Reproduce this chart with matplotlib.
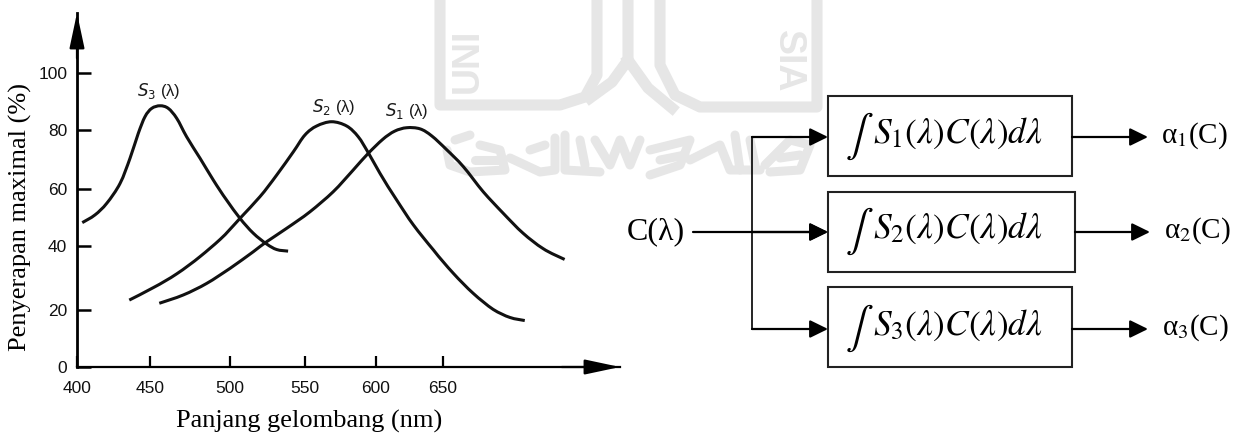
import numpy as np
import matplotlib
matplotlib.use('Agg')
import matplotlib.pyplot as plt
from matplotlib.patches import Rectangle, PathPatch
from matplotlib.path import Path

# values
s3_x = [403.6, 412.3, 420.4, 429.5, 436.3, 442, 446.6, 451.1, 456.3, 461.4, 466.7, 472.9, 481.3, 489.6, 497.9, 506.7, 515.6, 524.6, 531.3, 539]
s3_y = [48.2, 50.9, 55, 61.9, 70.4, 78.9, 84.7, 87.6, 88.5, 87.6, 84.1, 77.7, 70.4, 63, 56.1, 49.7, 44.5, 40.7, 38.9, 38.4]
s2_x = [435.8, 452.1, 466.7, 481.3, 493.8, 506.7, 520.1, 531.3, 542.5, 550.3, 558.5, 569, 579.5, 587.6, 594.6, 603, 615.6, 628.1, 643.1, 658.1, 673.2, 688.2, 700.8, 712.1]
s2_y = [23.1, 27, 31.3, 36.7, 42.3, 49.7, 57.3, 64.7, 72.6, 78.3, 81.4, 82.9, 81.4, 77.7, 72.3, 65.3, 56.1, 47.4, 38.8, 31.5, 25.2, 20.2, 17.4, 16.3]
s1_x = [455.8, 470.8, 485.4, 500, 515.6, 524.6, 538, 553.8, 570, 584, 594.6, 605, 614, 623.1, 633.1, 641.9, 653.2, 665.7, 680.8, 695.8, 710.8, 725.9, 742.2]
s1_y = [22.1, 24.7, 28.3, 33, 38.2, 41.5, 46.2, 52, 59, 66.4, 72.1, 76.8, 79.6, 80.8, 80.4, 78, 73.3, 67.6, 59, 51.5, 44.5, 39.2, 35.8]

x_ticks = [400, 450, 500, 550, 600, 650]
y_ticks = [0, 20, 40, 60, 80, 100]

# the printed axes are not evenly spaced, so map the ticks to where they really are
x_knots = [400, 450, 500, 550, 600, 650, 784]
x_px = [77, 150, 230, 304.5, 376, 442.5, 620]
y_knots = [0, 20, 40, 60, 80, 100, 120.4]
y_px = [0, 57, 121, 178, 237, 294, 354]

# faint watermark behind everything
wm_bands = [
    [(440, -5), (440, 105), (560, 105), (585, 97), (597, 75), (597, -5)],
    [(628, -5), (628, 60), (612, 82), (590, 98)],
    [(628, 60), (648, 88), (672, 108)],
    [(660, -5), (660, 65), (675, 95), (700, 107), (817, 107), (817, -5)],
]
wm_script = [
    [(447, 150), (450, 165), (470, 172), (505, 170), (500, 150), (480, 145)],
    [(455, 140), (470, 135)],
    [(475, 160), (500, 160)],
    [(510, 158), (540, 172), (555, 170), (555, 138)],
    [(530, 150), (545, 145)],
    [(565, 135), (565, 170), (600, 172)],
    [(580, 140), (585, 165)],
    [(595, 140), (610, 165), (620, 140), (630, 165), (640, 140)],
    [(650, 150), (690, 140), (680, 165), (650, 175)],
    [(660, 160), (685, 155)],
    [(690, 160), (720, 145), (730, 170), (760, 170)],
    [(735, 135), (740, 170)],
    [(750, 140), (755, 165)],
    [(765, 165), (790, 140), (810, 145), (800, 170), (770, 172)],
    [(780, 158), (800, 155)],
]

W, H = 1246, 437
fig = plt.figure(figsize=(W / 100, H / 100), dpi=100)

bg = fig.add_axes([0, 0, 1, 1])
bg.set_xlim(0, W)
bg.set_ylim(H, 0)
bg.axis('off')

wm = '#e6e6e6'
for band in wm_bands:
    bx, by = zip(*band)
    bg.plot(bx, by, color=wm, lw=8, solid_joinstyle='round', zorder=0)
for band in wm_script:
    bx, by = zip(*band)
    bg.plot(bx, by, color=wm, lw=6.5, solid_joinstyle='round', solid_capstyle='round', zorder=0)
bg.text(468, 93, 'UNI', rotation=90, ha='center', va='bottom', fontsize=27, color=wm, family='Liberation Sans', weight='bold', zorder=0, clip_on=True)
bg.text(788, 92, 'SIA', rotation=-90, ha='center', va='bottom', fontsize=27, color=wm, family='Liberation Sans', weight='bold', zorder=0, clip_on=True)

ax = fig.add_axes([77 / W, (H - 367) / H, (620 - 77) / W, 354 / H])
ax.patch.set_alpha(0)
ax.set_xscale('function', functions=(lambda v: np.interp(v, x_knots, x_px),
                                     lambda v: np.interp(v, x_px, x_knots)))
ax.set_yscale('function', functions=(lambda v: np.interp(v, y_knots, y_px),
                                     lambda v: np.interp(v, y_px, y_knots)))
ax.set_xlim(400, 784)
ax.set_ylim(0, 120.4)


def smooth_path(xs, ys):
    # catmull-rom through the read points, so the curves have no corners
    p = np.column_stack([xs, ys])
    verts = [p[0]]
    codes = [Path.MOVETO]
    for i in range(len(p) - 1):
        a = p[max(i - 1, 0)]
        b = p[i]
        c = p[i + 1]
        d = p[min(i + 2, len(p) - 1)]
        verts += [b + (c - a) / 6, c - (d - b) / 6, c]
        codes += [Path.CURVE4] * 3
    return Path(verts, codes)


for xs, ys in [(s3_x, s3_y), (s2_x, s2_y), (s1_x, s1_y)]:
    ax.add_patch(PathPatch(smooth_path(xs, ys), fc='none', ec='#111111', lw=2.2, clip_on=False))

for s in ['top', 'right']:
    ax.spines[s].set_visible(False)
ax.spines['left'].set_linewidth(2)
ax.spines['bottom'].set_linewidth(1.6)
ax.set_xticks(x_ticks)
ax.set_yticks(y_ticks)
ax.minorticks_off()
ax.tick_params(axis='x', direction='in', length=8, width=1.6, pad=10)
ax.tick_params(axis='y', direction='in', length=10, width=1.8, pad=7)
for lab in ax.get_xticklabels() + ax.get_yticklabels():
    lab.set_family('Liberation Sans')
    lab.set_fontsize(12.5)
    lab.set_color('#111111')

big_head = dict(arrowstyle='-|>,head_length=2.16,head_width=0.46', color='k', lw=1.6, shrinkA=0, shrinkB=0, mutation_scale=10)
ax.annotate('', xy=(784, 0), xytext=(740, 0), arrowprops=big_head, annotation_clip=False)
ax.annotate('', xy=(400, 120.4), xytext=(400, 105), arrowprops=big_head, annotation_clip=False)

sans = dict(family='Liberation Sans', ha='center', va='center', color='#1a1a1a', fontsize=12, math_fontfamily='dejavusans')
bg.text(159, 91, r'$S_3$ (λ)', **sans)
bg.text(334, 107, r'$S_2$ (λ)', **sans)
bg.text(407, 111, r'$S_1$ (λ)', **sans)

serif = dict(family='Liberation Serif', color='k', va='center')
bg.text(20, 217, 'Penyerapan maximal (%)', rotation=90, ha='center', fontsize=19, **serif)
bg.text(309, 421, 'Panjang gelombang (nm)', ha='center', fontsize=19, **serif)

# block diagram on the right
boxes = [(828, 96, 244, 80), (828, 192, 247, 80), (828, 287, 244, 80)]
formulas = [r'$S_1(\lambda)C(\lambda)d\lambda$', r'$S_2(\lambda)C(\lambda)d\lambda$', r'$S_3(\lambda)C(\lambda)d\lambda$']
outputs = [r'α$_1$(C)', r'α$_2$(C)', r'α$_3$(C)']
line_y = [137, 232, 329]
tip_x = [1148, 1150, 1148]
out_x = [1161, 1164, 1162]

arrow = dict(arrowstyle='-|>,head_length=1.1,head_width=0.54', color='k', lw=1.6, shrinkA=0, shrinkB=0, mutation_scale=10)
for (bx, by, bw, bh), f, o, cy, tx, ox in zip(boxes, formulas, outputs, line_y, tip_x, out_x):
    bg.add_patch(Rectangle((bx, by), bw, bh, fc='none', ec='#222222', lw=1.5, zorder=2))
    bg.text(859, cy - 1, r'$\int$', fontsize=30, ha='center', va='center', math_fontfamily='stix', zorder=3)
    bg.text(873, cy + 6, f, fontsize=25.5, ha='left', va='baseline', math_fontfamily='stix', zorder=3)
    bg.annotate('', xy=(bx, cy), xytext=(752, cy), arrowprops=arrow)
    bg.annotate('', xy=(tx, cy), xytext=(bx + bw, cy), arrowprops=arrow)
    bg.text(ox, cy - 1, o, fontsize=21, ha='left', va='center', family='Liberation Serif', math_fontfamily='stix')
bg.plot([752, 752], [line_y[0], line_y[2]], color='k', lw=1.2)
bg.annotate('', xy=(828, line_y[1]), xytext=(693, line_y[1]), arrowprops=arrow)
bg.text(656, 232, 'C(λ)', fontsize=23, ha='center', **serif)

fig.savefig('out.png', dpi=100)
